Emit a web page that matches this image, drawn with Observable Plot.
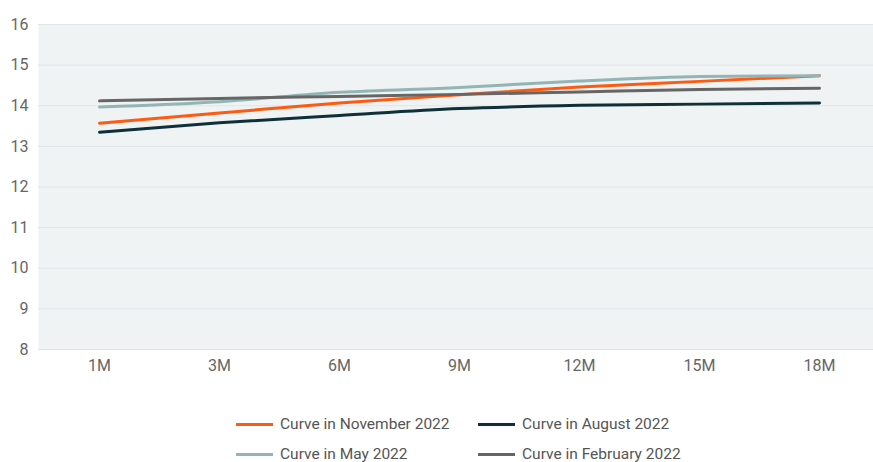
<!DOCTYPE html>
<html><head><meta charset="utf-8">
<script src="https://cdn.jsdelivr.net/npm/d3@7"></script>
<script src="https://cdn.jsdelivr.net/npm/@observablehq/plot@0.6"></script>
<style>
body{margin:0;background:#fff;font-family:Roboto,"Liberation Sans",sans-serif;}
#legend{position:relative;height:77px;}
.item{position:absolute;display:flex;align-items:center;font-size:15.5px;color:#555;white-space:nowrap;}
.sw{width:37px;height:3px;margin-right:7px;}
</style></head>
<body>
<div id="chart"></div>
<div id="legend"></div>
<script>
const tenors = ["1M","3M","6M","9M","12M","15M","18M"];
const nov2022 = [13.57,13.82,14.07,14.27,14.46,14.60,14.74];
const aug2022 = [13.35,13.58,13.76,13.93,14.01,14.04,14.07];
const may2022 = [13.97,14.10,14.33,14.45,14.61,14.72,14.74];
const feb2022 = [14.12,14.18,14.23,14.28,14.34,14.40,14.43];
const seriesNames = ["Curve in November 2022","Curve in August 2022","Curve in May 2022","Curve in February 2022"];
const seriesColors = ["#ff5a0f","#0f3038","#93b5b5","#666666"];
const yTicks = [8,9,10,11,12,13,14,15,16];

const allSeries = [nov2022, aug2022, may2022, feb2022];
const data = [];
allSeries.forEach((vals, si) => vals.forEach((v, i) => data.push({tenor: tenors[i], value: v, series: seriesNames[si]})));

const plot = Plot.plot({
  width: 873, height: 385,
  marginLeft: 38, marginRight: 0, marginTop: 24, marginBottom: 36,
  style: {fontFamily: "Roboto, sans-serif", fontSize: "16px", color: "#666", background: "#fff"},
  x: {type: "point", domain: tenors, range: [97, 821], padding: 0, label: null, tickSize: 0, tickPadding: 10},
  y: {domain: [8,16], ticks: yTicks, label: null, tickSize: 0, tickPadding: 10},
  color: {domain: seriesNames, range: seriesColors},
  marks: [
    Plot.frame({fill: "#eff3f4", stroke: null}),
    Plot.gridY(yTicks, {stroke: "#dfe5e7", strokeOpacity: 1, strokeWidth: 1}),
    Plot.axisY({ticks: yTicks, tickSize: 0, tickPadding: 10, fill: "#666", fontSize: 16}),
    Plot.axisX({tickSize: 0, tickPadding: 10, fill: "#666", fontSize: 16}),
    Plot.line(data, {x: "tenor", y: "value", z: "series", stroke: "series", strokeWidth: 3, curve: "monotone-x"})
  ]
});
document.getElementById("chart").appendChild(plot);

const legend = document.getElementById("legend");
const pos = [[236,40],[478,40],[236,70],[478,70]];
seriesNames.forEach((n, i) => {
  const d = document.createElement("div");
  d.className = "item";
  d.style.left = pos[i][0] + "px";
  d.style.top = (pos[i][1] - 10) + "px";
  d.innerHTML = `<span class="sw" style="background:${seriesColors[i]}"></span><span>${n}</span>`;
  legend.appendChild(d);
});
</script>
</body></html>
